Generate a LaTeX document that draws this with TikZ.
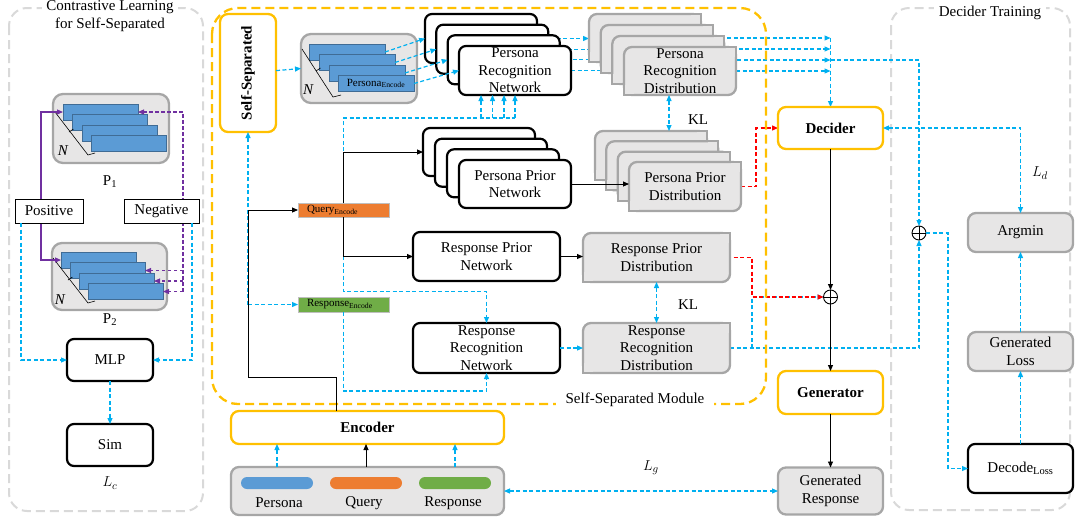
\documentclass[tikz,border=0pt]{standalone}
\usepackage{fontspec}
\setmainfont{Liberation Serif}
\usetikzlibrary{arrows.meta,backgrounds}
\newcommand{\fs}{\fontsize{15}{17.5}\selectfont}
\newcommand{\fsm}{\fontsize{11}{12}\selectfont}
\definecolor{cb}{HTML}{00B0F0}
\definecolor{gfill}{HTML}{E7E6E6}
\definecolor{gline}{HTML}{A6A6A6}
\definecolor{org}{HTML}{FFC000}
\definecolor{pur}{HTML}{7030A0}
\definecolor{bar}{HTML}{5B9BD5}
\definecolor{qorange}{HTML}{ED7D31}
\definecolor{rgreen}{HTML}{70AD47}
\definecolor{panel}{HTML}{D9D9D9}
\newcommand{\dpatch}[1]{%
  \fill[gfill] (#1.north east) rectangle ([xshift=-10pt,yshift=-10pt]#1.north east);
  \draw[gline,line width=2.3pt] ([xshift=-10pt]#1.north east) -- (#1.north east) -- ([yshift=-10pt]#1.north east);
  \fill[gfill] (#1.south west) rectangle ([xshift=10pt,yshift=10pt]#1.south west);
  \draw[gline,line width=2.3pt] ([xshift=10pt]#1.south west) -- (#1.south west) -- ([yshift=10pt]#1.south west);}
\tikzset{
  every node/.style={font=\fs, inner sep=0pt, outer sep=0pt},
  sz/.style 2 args={minimum width=#1pt, minimum height=#2pt},
  net/.style={draw=black, line width=2.2pt, rounded corners=7pt, fill=white, align=center},
  gbx/.style={draw=gline, line width=2.3pt, rounded corners=8pt, fill=gfill, align=center},
  obx/.style={draw=org, line width=2.3pt, rounded corners=8pt, fill=white, align=center, font=\fs\bfseries},
  thinbox/.style={draw=black, line width=0.9pt, fill=white},
  barst/.style={fill=bar, draw=bar!70!black, line width=0.5pt, anchor=north west},
  bd/.style={draw=cb, line width=1.2pt, dash pattern=on 4pt off 2.5pt},
  rd/.style={draw=red, line width=1.2pt, dash pattern=on 4pt off 2.5pt},
  pd/.style={draw=pur, line width=1.1pt, dash pattern=on 3.5pt off 2.5pt},
  blk/.style={draw=black, line width=0.9pt},
  pnl/.style={draw=panel, line width=2pt, dash pattern=on 9pt off 5pt, rounded corners=18pt},
  modb/.style={draw=org, line width=2.3pt, dash pattern=on 9pt off 5pt, rounded corners=26pt},
  oplus/.style={draw=black, circle, line width=0.9pt, minimum size=14pt, fill=white}
}
\begin{document}
\begin{tikzpicture}[x=1pt,y=-1pt,>={Triangle[length=6pt,width=5pt]}]
\useasboundingbox (0,0) rectangle (1076,517);

\begin{pgfonlayer}{background}
  \draw[pnl] (9,8) rectangle (203,511);
  \draw[pnl] (891,8) rectangle (1070,510);
\end{pgfonlayer}
\node[fill=white, align=center, inner xsep=4pt, inner ysep=1pt] (t1) at (110,16) {Contrastive Learning\\for Self-Separated};
\node[fill=white, inner xsep=5pt, inner ysep=1pt] (t2) at (990,13) {Decider Training};
\draw[modb] (212,8) rectangle (766,404);
\node[fill=white, inner xsep=10pt, inner ysep=2pt] (mlabel) at (635,400) {Self-Separated Module};

% ---------------- left panel ----------------
\node[gbx, rounded corners=10pt, sz={116}{69}] (p1) at (111,128.5) {};
\node[barst, sz={75}{16}] (p1b1) at (63,104) {};
\node[barst, sz={75}{16}] (p1b2) at (72.5,114.5) {};
\node[barst, sz={75}{16}] (p1b3) at (82,125) {};
\node[barst, sz={75}{16}] (p1b4) at (91.5,135.5) {};
\draw[line width=0.6pt] (55,112) -- (88,155) -- (95,153);
\draw[line width=0.6pt] (69,132) -- ++(4.5,-3);
\node[font=\fs\itshape] (n1) at (63,151) {N};
\node (p1l) at (110,182) {P\textsubscript{1}};

\node[gbx, rounded corners=10pt, sz={115}{67}] (p2) at (109.5,276.5) {};
\node[barst, sz={75}{16}] (p2b1) at (61,252) {};
\node[barst, sz={75}{16}] (p2b2) at (70,262.5) {};
\node[barst, sz={75}{16}] (p2b3) at (79,273) {};
\node[barst, sz={75}{16}] (p2b4) at (88,283.5) {};
\draw[line width=0.6pt] (53,258) -- (88,303) -- (95,301);
\draw[line width=0.6pt] (68,280) -- ++(4.5,-3);
\node[font=\fs\itshape] (n2) at (60,300) {N};
\node (p2l) at (110,320) {P\textsubscript{2}};

\draw[pur, line width=1.1pt, <->] (p1b1.west) -- ++(-22,0) |- (p2b1.west);
\coordinate (pv) at (183,0);
\draw[pd, ->] (pv |- p2b4.east) -- (pv |- p1b1.east) -- (p1b1.east);
\draw[pd, ->] (pv |- p2b2.east) -- (p2b2.east);
\draw[pd, ->] (pv |- p2b3.east) -- (p2b3.east);
\draw[pd, ->] (pv |- p2b4.east) -- (p2b4.east);

\node[thinbox, sz={68}{24}] (pos) at (49,211) {Positive};
\node[thinbox, sz={75}{24}] (neg) at (161.5,211) {Negative};
\node[net, sz={86}{42}] (mlp) at (110,360) {MLP};
\node[net, sz={86}{42}] (sim) at (110,445) {Sim};
\node (lc) at (110,483) {$L_c$};
\draw[bd, ->] ([xshift=6pt]pos.south west) |- (mlp.west);
\draw[bd, ->] ([xshift=-7pt]neg.south east) |- (mlp.east);
\draw[bd, ->] (mlp) -- (sim);

% ---------------- middle module ----------------
\node[obx, sz={56}{118}] (ss) at (248,73) {};
\node[rotate=90, font=\fs\bfseries] (sstext) at (ss) {Self-Separated};

\node[gbx, rounded corners=10pt, sz={116}{69}] (pe) at (359,68.5) {};
\node[barst, sz={76}{16}] (pe1) at (309,44) {};
\node[barst, sz={76}{16}] (pe2) at (319,54.5) {};
\node[barst, sz={76}{16}] (pe3) at (329,65) {};
\node[barst, sz={76}{16}, font=\fsm] (pe4) at (338,75.5) {Persona\textsubscript{Encode}};
\draw[line width=0.6pt] (302,49) -- (333,97) -- (341,95);
\draw[line width=0.6pt] (316,71) -- ++(4.5,-3);
\node[font=\fs\itshape] (n3) at (308,90) {N};

\node[net, sz={112}{49}] (prn1) at (481,38.5) {};
\node[net, sz={112}{49}] (prn2) at (492.3,49.2) {};
\node[net, sz={112}{49}] (prn3) at (503.7,59.8) {};
\node[net, sz={112}{49}] (prn4) at (515,70.5) {Persona\\Recognition\\Network};

\node[net, sz={112}{48}] (ppn1) at (479,152) {};
\node[net, sz={112}{48}] (ppn2) at (491,162.7) {};
\node[net, sz={112}{48}] (ppn3) at (503,173.3) {};
\node[net, sz={112}{48}] (ppn4) at (515,184) {Persona Prior\\Network};

\node[gbx, sz={112}{48}] (prd1) at (645,38) {}; \dpatch{prd1}
\node[gbx, sz={112}{48}] (prd2) at (656.7,49) {}; \dpatch{prd2}
\node[gbx, sz={112}{48}] (prd3) at (668.3,60) {}; \dpatch{prd3}
\node[gbx, sz={112}{48}] (prd4) at (680,71) {Persona\\Recognition\\Distribution}; \dpatch{prd4}

\node[gbx, sz={112}{49}] (ppd1) at (651,155.5) {}; \dpatch{ppd1}
\node[gbx, sz={112}{49}] (ppd2) at (662.3,165.8) {}; \dpatch{ppd2}
\node[gbx, sz={112}{49}] (ppd3) at (673.7,176.2) {}; \dpatch{ppd3}
\node[gbx, sz={112}{49}] (ppd4) at (685,186.5) {Persona Prior\\Distribution}; \dpatch{ppd4}

\node[net, sz={147}{49}] (rpn) at (486.5,256.5) {Response Prior\\Network};
\node[net, sz={147}{50}] (rrn) at (486.5,348) {Response\\Recognition\\Network};
\node[gbx, sz={147}{49}] (rpd) at (656.5,257.5) {Response Prior\\Distribution}; \dpatch{rpd}
\node[gbx, sz={147}{50}] (rrd) at (656.5,348) {Response\\Recognition\\Distribution}; \dpatch{rrd}

\node[fill=qorange, draw=gray!50, line width=0.6pt, sz={91}{14}] (qe) at (343.5,210) {};
\node[anchor=west, font=\fsm] (qet) at ([xshift=9pt]qe.west) {Query\textsubscript{Encode}};
\node[fill=rgreen, draw=gray!50, line width=0.6pt, sz={91}{15}] (re) at (343.5,304.5) {};
\node[anchor=west, font=\fsm] (ret) at ([xshift=9pt]re.west) {Response\textsubscript{Encode}};

\node (kl1) at (698,120) {KL};
\node (kl2) at (688,305) {KL};

% ---------------- right side ----------------
\node[obx, sz={105}{42}] (dec) at (830.5,128) {Decider};
\node[oplus] (opM) at (830.5,297) {};
\draw[line width=0.9pt] (opM.north) -- (opM.south) (opM.west) -- (opM.east);
\node[obx, sz={105}{43}] (gen) at (830.5,392.5) {Generator};
\node[gbx, sz={105}{47}] (gr) at (830.5,491) {Generated\\Response};
\node[oplus] (opR) at (919,233) {};
\draw[line width=0.9pt] (opR.north) -- (opR.south) (opR.west) -- (opR.east);
\node[gbx, sz={105}{39}] (argmin) at (1020.5,232.5) {Argmin};
\node[gbx, sz={105}{39}] (gl) at (1020.5,351.5) {Generated\\Loss};
\node[net, sz={105}{49}] (decode) at (1020.5,468.5) {Decode\textsubscript{Loss}};
\node (ld) at (1040,173) {$L_d$};

% ---------------- bottom ----------------
\node[obx, sz={273}{33}] (enc) at (367.5,427.5) {Encoder};
\node[gbx, sz={273}{48}] (inp) at (367.5,491) {};
\node[fill=bar, rounded corners=6pt, sz={72}{12}] (pp) at (277,483) {};
\node[fill=qorange, rounded corners=6pt, sz={72}{12}] (qp) at (366,483) {};
\node[fill=rgreen, rounded corners=6pt, sz={72}{12}] (rp) at (455,483) {};
\node (ppl) at (279,503) {Persona};
\node (qpl) at (364,503) {Query};
\node (rpl) at (453,503) {Response};
\node (lg) at (651,468) {$L_g$};

% ---------------- connectors ----------------
\draw[bd, ->] (ss) -- (pe.west);
\draw[bd, ->] (pe1.east) -- (prn1.west);
\draw[bd, ->] (pe2.east) -- (prn2.west);
\draw[bd, ->] (pe3.east) -- (prn3.west);
\draw[bd, ->] (pe4.east) -- (prn4.west);

\begin{pgfonlayer}{background}
  \draw[bd, ->] (prn1.east) -- (prn1.east -| prd1.west);
  \draw[bd, ->] (prn2.east) -- (prn2.east -| prd2.west);
  \draw[bd, ->] (prn3.east) -- (prn3.east -| prd3.west);
  \draw[bd, ->] (prn4.east) -- (prn4.east -| prd4.west);
  \draw[bd, ->] (prd1.east) -- (prd1.east -| dec.north);
  \draw[bd, ->] (prd2.east) -- (prd2.east -| dec.north);
  \draw[bd, ->] (prd3.east) -- (prd3.east -| dec.north);
  \draw[bd, ->] (prd4.east) -- (prd4.east -| dec.north);
  \draw[bd, ->] (prd1.east -| dec.north) -- (dec.north);
  \draw[bd, ->] (prd3.east -| dec.north) -| (opR.north);
  \draw[rd, ->] (ppd4.east) -- ++(15,0) |- (dec.west);
  \coordinate (brx) at (752,0);
  \draw[bd, ->] (rrd.east) -| (opR.south);
  \draw[bd, ->] (brx |- rrd.east) |- (opM.west);
  \draw[rd, dash phase=3pt, ->] (rpd.east) -| (brx |- opM) -- (opM.west);
\end{pgfonlayer}

\coordinate (klx) at (669,0);
\draw[bd, <->] (prd4.south -| klx) -- (ppd1.north -| klx);
\draw[blk, ->] (ppn4.east) -- (ppn4.east -| ppd4.west);

\coordinate (hy) at (0,118);
\draw[bd] (qe.north) -- (qe.north |- hy) -- (prn4.south |- hy);
\coordinate (u1) at ([xshift=-34pt]prn4.south);
\coordinate (u2) at ([xshift=-22.5pt]prn4.south);
\coordinate (u3) at ([xshift=-11pt]prn4.south);
\coordinate (u4) at (prn4.south);
\foreach \u in {u1,u2,u3,u4} { \draw[bd, ->] (\u |- hy) -- (\u); }
\coordinate (ry1) at (0,291.5);
\coordinate (ry2) at (0,391);
\draw[bd, ->] (qe.south) -- (qe.south |- ry1) -| (rrn.north);
\draw[bd, ->] (re.south) -- (re.south |- ry2) -| (rrn.south);

\coordinate (lx) at (248,0);
\coordinate (ex) at (336,0);
\coordinate (jy) at (0,377);
\draw[bd, ->] (lx |- re.west) -- (re.west);
\draw[bd, ->] (lx |- re.west) -- (ss.south);
\draw[blk, ->] (ex |- enc.north) -- (ex |- jy) -| (lx |- qe.west) -- (qe.west);
\draw[blk, ->] (qe.north) |- (ppn1.west);
\draw[blk, ->] (qe.south) |- (rpn.west);

\draw[blk, ->] (rpn.east) -- (rpn.east -| rpd.west);
\draw[bd, ->] (rrn.east) -- (rrn.east -| rrd.west);
\draw[bd, <->] (rpd.south) -- (rrd.north);

\draw[blk, ->] (dec.south) -- (opM.north);
\draw[blk, ->] (opM.south) -- (gen.north);
\draw[blk, ->] (gen.south) -- (gr.north);

\draw[bd, <->] (dec.east) -| (argmin.north);
\draw[bd, ->] (opR.east) -- ++(22,0) |- (decode.west);
\draw[bd, ->] (decode.north) -- (gl.south);
\draw[bd, ->] (gl.north) -- (argmin.south);

\draw[bd, ->] (pp |- inp.north) -- (pp |- enc.south);
\draw[blk, ->] (qp |- inp.north) -- (qp |- enc.south);
\draw[bd, ->] (rp |- inp.north) -- (rp |- enc.south);
\draw[bd, <->] (inp.east) -- (gr.west);

\end{tikzpicture}
\end{document}
